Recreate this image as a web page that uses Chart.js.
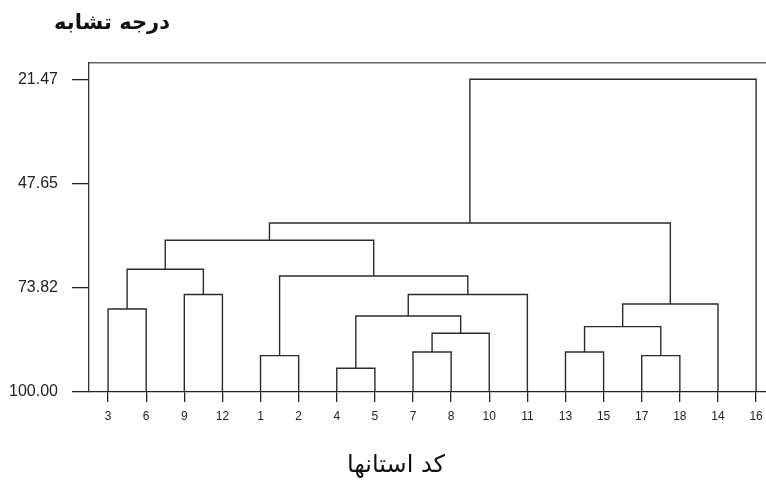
<!DOCTYPE html>
<html lang="fa">
<head>
<meta charset="utf-8">
<script src="https://cdn.jsdelivr.net/npm/chart.js@4.4.1/dist/chart.umd.min.js"></script>
<style>
  html, body { margin: 0; padding: 0; background: #fff; }
  #wrap { width: 766px; height: 481px; }
</style>
</head>
<body>
<div id="wrap"><canvas id="dendro" width="766" height="481"></canvas></div>
<script>
// hojas en el orden del dendrograma
const ostanLabels = ['3', '6', '9', '12', '1', '2', '4', '5', '7', '8', '10', '11', '13', '15', '17', '18', '14', '16'];
// uniones: indices de nodo (0..17 hojas, 18.. uniones previas)
const mergeLeft  = [6, 4, 14, 8, 12, 21, 22, 18, 0, 24, 2, 25, 19, 26, 31, 32, 33];
const mergeRight = [7, 5, 15, 9, 13, 10, 20, 23, 1, 16, 3, 11, 29, 28, 30, 27, 17];
const mergeSim   = [94.05, 90.86, 90.86, 89.95, 89.95, 85.26, 83.58, 80.91, 79.16, 77.9, 75.54, 75.54, 70.87, 69.19, 61.9, 57.56, 21.47];
const yTicks = [21.47, 47.65, 73.82, 100.00];
const titleY = 'درجه تشابه';
const titleX = 'کد استانها';

const nodeX = ostanLabels.map((l, i) => i);
const nodeH = ostanLabels.map(() => 100);
const links = [];

mergeLeft.forEach((a, i) => {
  const b = mergeRight[i];
  const h = mergeSim[i];
  links.push({
    data: [
      { x: nodeX[a], y: nodeH[a] },
      { x: nodeX[a], y: h },
      { x: nodeX[b], y: h },
      { x: nodeX[b], y: nodeH[b] }
    ],
    borderColor: '#2b2b2b',
    borderWidth: 1.4,
    pointRadius: 0,
    fill: false,
    tension: 0
  });
  nodeX.push((nodeX[a] + nodeX[b]) / 2);
  nodeH.push(h);
});

// titulos (texto persa)
const titulos = {
  id: 'titulos',
  afterDraw(chart) {
    const ctx = chart.ctx;
    const a = chart.chartArea;
    ctx.save();
    ctx.fillStyle = '#111';
    ctx.textAlign = 'center';
    ctx.textBaseline = 'middle';
    ctx.font = 'bold 21px "DejaVu Sans"';
    ctx.fillText(titleY, a.left + 23, a.top - 39);
    ctx.font = '24px "DejaVu Sans"';
    ctx.fillText(titleX, a.left + 307, a.bottom + 74);
    ctx.restore();
  }
};

const fuente = '"Liberation Sans", Arial, sans-serif';

new Chart(document.getElementById('dendro'), {
  type: 'line',
  data: { datasets: links },
  options: {
    responsive: false,
    animation: false,
    layout: { padding: 0 },
    plugins: { legend: { display: false }, tooltip: { enabled: false } },
    scales: {
      x: {
        type: 'linear',
        min: -0.5,
        max: 17.26,
        afterBuildTicks: s => { s.ticks = ostanLabels.map((l, i) => ({ value: i })); },
        afterFit: s => { s.height = 89; s.paddingLeft = 0; s.paddingRight = 0; },
        ticks: {
          autoSkip: false,
          maxRotation: 0,
          padding: 7,
          color: '#222',
          font: { family: fuente, size: 12 },
          callback: v => ostanLabels[v]
        },
        grid: { drawOnChartArea: false, drawTicks: true, tickLength: 10, color: '#222', lineWidth: 1.3 },
        border: { display: true, color: '#222', width: 1.3 }
      },
      xTop: {
        type: 'linear',
        position: 'top',
        min: -0.5,
        max: 17.26,
        afterBuildTicks: s => { s.ticks = []; },
        afterFit: s => { s.height = 63; s.paddingLeft = 0; s.paddingRight = 0; },
        ticks: { display: false },
        grid: { drawOnChartArea: false, drawTicks: false },
        border: { display: true, color: '#666', width: 1.6 }
      },
      y: {
        type: 'linear',
        reverse: true,
        min: 17.4,
        max: 100,
        afterBuildTicks: s => { s.ticks = yTicks.map(v => ({ value: v })); },
        afterFit: s => { s.width = 89; s.paddingTop = 0; s.paddingBottom = 0; },
        ticks: {
          padding: 14,
          color: '#222',
          font: { family: fuente, size: 16 },
          callback: v => v.toFixed(2)
        },
        grid: { drawOnChartArea: false, drawTicks: true, tickLength: 17, color: '#222', lineWidth: 1.3 },
        border: { display: true, color: '#333', width: 1.3 }
      }
    }
  },
  plugins: [titulos]
});
</script>
</body>
</html>
